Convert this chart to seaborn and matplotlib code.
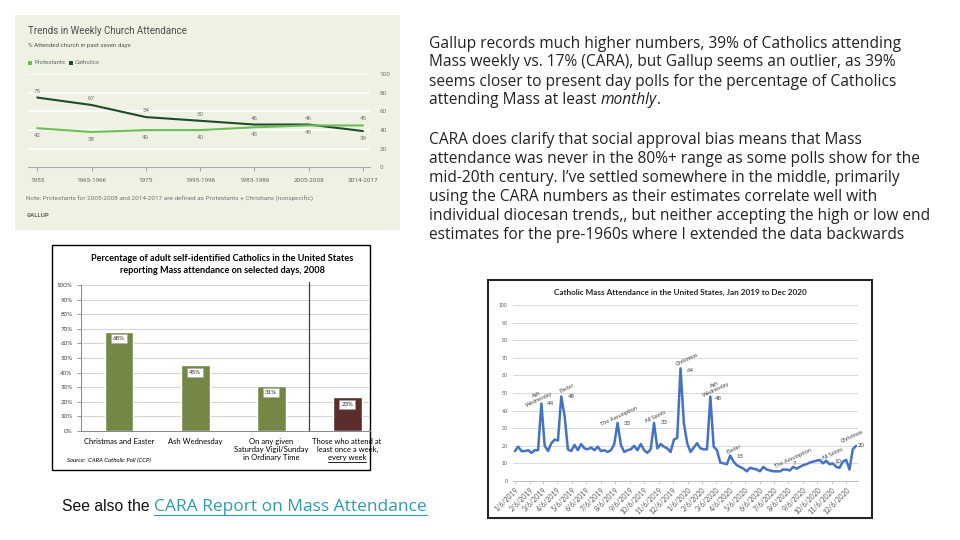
import numpy as np
import pandas as pd
import matplotlib
matplotlib.use("Agg")
import matplotlib.pyplot as plt
import matplotlib.dates as mdates
import matplotlib.transforms as mtransforms
from matplotlib.patches import Rectangle
from matplotlib.lines import Line2D
import seaborn as sns

sns.set_theme(style="white")
plt.rcParams["font.family"] = ["Open Sans", "DejaVu Sans"]

W, H = 960, 540

# === Gallup: weekly church attendance ===
gallup_periods = ["1955", "1965-1966", "1975", "1995-1996", "1983-1986", "2005-2008", "2014-2017"]
gallup_catholics = [75, 67, 54, 50, 46, 46, 39]
gallup_protestants = [42, 38, 40, 40, 43, 45, 45]

# === CARA 2008: attendance on selected days ===
cara_days = ["Christmas and Easter", "Ash Wednesday",
             "On any given\nSaturday Vigil/Sunday\nin Ordinary Time",
             "Those who attend at\nleast once a week,\nevery week"]
cara_pct = [68, 45, 31, 23]
cara_colors = ["#77933c", "#77933c", "#77933c", "#632523"]

# === Weekly Mass attendance 2019-2020 ===
weekly_2019 = [17, 19.5, 17, 17, 17.5, 16, 17.5, 17.5, 44, 20,
               17, 21.5, 23.5, 23, 48, 37, 18, 17, 20.5, 17.5,
               21, 18.5, 18, 19, 17.5, 19.5, 17, 17.5, 16.5, 17.5,
               21, 33, 20.5, 16.5, 17.5, 18, 20, 17.5, 21, 17.5,
               16, 18, 33, 18.5, 21, 19.5, 18.5, 16.5, 23.5, 24.5,
               64, 33]
weekly_2020 = [21.5, 16.5, 19, 21.5, 18.5, 18, 18, 48, 19.5, 17.5,
               10.5, 10, 9.5, 14.5, 11, 9, 8, 7, 5.5, 7.5,
               7, 6.5, 5.5, 8, 6.5, 6, 5.5, 5.5, 5.5,
               6.5, 6.5, 6, 8, 7, 8, 9, 9.5, 10.5,
               11, 11.5, 12, 10, 11.5, 9.5, 10, 8, 7.5, 11,
               12, 6.5, 18, 20]
weekly_values = weekly_2019 + weekly_2020
weekly_dates = pd.date_range("2019-01-06", periods=len(weekly_values), freq="7D")
month_ticks = pd.date_range("2019-01-06", "2020-12-06", freq=pd.DateOffset(months=1))

feast_labels = ["Ash\nWednesday", "Easter", "The Assumption", "All Saints", "Christmas",
                "Ash\nWednesday", "Easter", "The Assumption", "All Saints", "Christmas"]
feast_weeks = [8, 14, 31, 42, 50, 59, 65, 84, 96, 103]
feast_numbers = ["44", "48", "33", "33", "64", "48", "15", "7", "10", "20"]
# offsets in pixels (label, number)
feast_label_off = [(-3.5, 6.6), (6, 8.5), (1.5, 7), (2, 6), (6.5, 8.4),
                   (5, 9.5), (4, 6.5), (0, 9), (0, 10), (-4, 9)]
feast_num_off = [(9.5, 0), (10, 0), (9.5, -1), (10, 0), (9.5, -2.6),
                 (8, -1.5), (10, -1.5), (1, 3), (5, 2), (5, 0)]

text_par1 = ["Gallup records much higher numbers, 39% of Catholics attending",
             "Mass weekly vs. 17% (CARA), but Gallup seems an outlier, as 39%",
             "seems closer to present day polls for the percentage of Catholics"]
text_par2 = ["CARA does clarify that social approval bias means that Mass",
             "attendance was never in the 80%+ range as some polls show for the",
             "mid-20th century. I\u2019ve settled somewhere in the middle, primarily",
             "using the CARA numbers as their estimates correlate well with",
             "individual diocesan trends,, but neither accepting the high or low end",
             "estimates for the pre-1960s where I extended the data backwards"]

fig = plt.figure(figsize=(W / 100, H / 100), dpi=100)
fig.patch.set_facecolor("white")
renderer = fig.canvas.get_renderer()


def rect(x0, y0, x1, y1):
    return [x0 / W, 1 - y1 / H, (x1 - x0) / W, (y1 - y0) / H]


def ftext(x, y, s, **kw):
    return fig.text(x / W, 1 - y / H, s, **kw)


def text_width(s, **kw):
    t = fig.text(0, 0, s, **kw)
    w = t.get_window_extent(renderer).width
    t.remove()
    return w


def size_for(s, width, **kw):
    return 10 * width / text_width(s, fontsize=10, **kw)


def frect(x0, y0, x1, y1, **kw):
    fig.add_artist(Rectangle((x0 / W, 1 - y1 / H), (x1 - x0) / W, (y1 - y0) / H,
                             transform=fig.transFigure, **kw))


# === 1. Gallup panel ===
G_FONT = "Roboto"
C_DARK, C_LIGHT = "#23492d", "#6cbf55"
frect(15, 15, 400, 230, facecolor="#edf2e3", edgecolor="none", zorder=0)
ftext(27.7, 31, "Trends in Weekly Church Attendance", family=G_FONT, color="#4d4d4d", va="center",
      fontsize=size_for("Trends in Weekly Church Attendance", 159, family=G_FONT))
ftext(27.7, 45, "% Attended church in past seven days", family=G_FONT, color="#555", va="center",
      fontsize=size_for("% Attended church in past seven days", 103, family=G_FONT))
leg_fs = size_for("Protestants", 31, family=G_FONT)
frect(27.7, 61, 31.7, 65, facecolor=C_LIGHT, edgecolor="none")
ftext(34.5, 63, "Protestants", family=G_FONT, color="#666", va="center", fontsize=leg_fs)
frect(68.5, 61, 72.5, 65, facecolor=C_DARK, edgecolor="none")
ftext(74.5, 63, "Catholics", family=G_FONT, color="#666", va="center", fontsize=leg_fs)
note = "Note: Protestants for 2005-2008 and 2014-2017 are defined as Protestants + Christians (nonspecific)"
ftext(26.5, 199, note, family=G_FONT, color="#777", va="center", fontsize=size_for(note, 285, family=G_FONT))
ftext(26.5, 215.5, "GALLUP", family=G_FONT, color="#666", va="center", weight="bold",
      fontsize=size_for("GALLUP", 23, family=G_FONT, weight="bold"))

ga = fig.add_axes(rect(28, 74.3, 370, 167.3))
ga.set_facecolor("none")
gdf = pd.DataFrame({
    "pos": list(range(len(gallup_periods))) * 2,
    "pct": gallup_catholics + gallup_protestants,
    "group": ["Catholics"] * len(gallup_periods) + ["Protestants"] * len(gallup_periods),
})
for yv in range(20, 101, 20):
    ga.axhline(yv, color="white", lw=1.2, zorder=0)
sns.lineplot(data=gdf, x="pos", y="pct", hue="group", palette={"Catholics": C_DARK, "Protestants": C_LIGHT},
             lw=1.5, legend=False, ax=ga)
ga.set_xlim(-0.17, 6.13)
ga.set_ylim(0, 100)
ga.set_xlabel("")
ga.set_ylabel("")
tick_fs = size_for("2014-2017", 30, family=G_FONT)
ga.set_xticks(range(len(gallup_periods)), gallup_periods, family=G_FONT)
ga.yaxis.tick_right()
ga.set_yticks(range(0, 101, 20))
ga.tick_params(axis="x", bottom=True, length=3, color="#aaa", width=0.8, labelsize=tick_fs,
               labelcolor="#666", pad=5)
ga.tick_params(axis="y", right=True, length=0, pad=7, labelsize=tick_fs, labelcolor="#777")
for lab in ga.get_yticklabels():
    lab.set_family(G_FONT)
for s in ["top", "left", "right"]:
    ga.spines[s].set_visible(False)
ga.spines["bottom"].set_color("#aaa")
ga.spines["bottom"].set_linewidth(0.8)
val_fs = size_for("75", 7, family=G_FONT)
for i, (c, p) in enumerate(zip(gallup_catholics, gallup_protestants)):
    for v, up in ((c, c >= p), (p, p > c)):
        ga.annotate(str(v), (i, v), xytext=(0, 4 if up else -5), textcoords="offset pixels",
                    ha="center", va="bottom" if up else "top", fontsize=val_fs, color="#777", family=G_FONT)

# === 2. CARA 2008 bar chart ===
B_FONT = "Lato"
frect(52, 245, 370, 470, facecolor="white", edgecolor="black", lw=1, zorder=0)
t1 = "Percentage of adult self-identified Catholics in the United States"
t2 = "reporting Mass attendance on selected days, 2008"
bt_fs = size_for(t1, 262, family=B_FONT, weight="bold")
ftext(222, 258.7, t1, family=B_FONT, weight="bold", fontsize=bt_fs, ha="center", va="center", color="black")
ftext(222, 270.7, t2, family=B_FONT, weight="bold", fontsize=bt_fs, ha="center", va="center", color="black")

bx = fig.add_axes(rect(81, 285, 370, 431))
bx.set_facecolor("none")
for yv in range(10, 101, 10):
    bx.axhline(yv, color="#d4d4d4", lw=0.8, zorder=0)
sns.barplot(x=list(range(4)), y=cara_pct, hue=list(range(4)), palette=cara_colors, width=0.38,
            legend=False, ax=bx, zorder=2, native_scale=True)
bx.set_xlim(-0.5, 3.30)
bx.set_ylim(0, 100)
bx.set_xlabel("")
bx.set_ylabel("")
bx.axvline(2.5, ymin=0, ymax=1.02, color="#404040", lw=0.9, clip_on=False)
bx.set_yticks(range(0, 101, 10), [f"{v}%" for v in range(0, 101, 10)])
bx.set_xticks([])
by_fs = size_for("100%", 16, family=B_FONT)
bx.tick_params(axis="y", left=True, length=3, color="#868686", width=0.6, labelsize=by_fs,
               labelcolor="#404040", pad=3)
for lab in bx.get_yticklabels():
    lab.set_family(B_FONT)
for s in ["top", "right"]:
    bx.spines[s].set_visible(False)
for s in ["left", "bottom"]:
    bx.spines[s].set_color("#868686")
    bx.spines[s].set_linewidth(0.7)
bv_fs = size_for("68%", 12, family=B_FONT)
for i, v in enumerate(cara_pct):
    bx.text(i, v - 4.8, f"{v}%", ha="center", va="center", fontsize=bv_fs, family=B_FONT, color="#222",
            zorder=4, bbox=dict(boxstyle="square,pad=0.3", facecolor="white", edgecolor="#a6a6a6", lw=0.4))
bl_fs = size_for("Christmas and Easter", 71, family=B_FONT)
trans = mtransforms.blended_transform_factory(bx.transData, bx.transAxes)
for i, lab in enumerate(cara_days):
    t = bx.text(i, -0.045, lab, transform=trans, ha="center", va="top", fontsize=bl_fs,
                family=B_FONT, color="black", linespacing=1.2)
    if i == len(cara_days) - 1:
        # underline the last line "every week"
        bb = t.get_window_extent(renderer)
        wpx = text_width("every week", fontsize=bl_fs, family=B_FONT)
        cx = (bb.x0 + bb.x1) / 2
        yb = bb.y0 - 0.5
        fig.add_artist(Line2D([(cx - wpx / 2) / W, (cx + wpx / 2) / W], [yb / H, yb / H],
                              transform=fig.transFigure, color="black", lw=0.6))
src = "Source:  CARA Catholic Poll (CCP)"
ftext(67, 460, src, family=B_FONT, style="italic", va="center", color="black",
      fontsize=size_for(src, 85, family=B_FONT, style="italic"))

# === 3. Weekly line chart ===
frect(488, 280, 872, 518, facecolor="white", edgecolor="#262626", lw=1.5, zorder=0)
lt = "Catholic Mass Attendance in the United States, Jan 2019 to Dec 2020"
ftext(680, 292, lt, family=B_FONT, weight="bold", ha="center", va="center", color="#222",
      fontsize=size_for(lt, 253, family=B_FONT, weight="bold"))

lx = fig.add_axes(rect(513, 305, 858, 481))
lx.set_facecolor("none")
for yv in range(10, 101, 10):
    lx.axhline(yv, color="#d9d9d9", lw=0.7, zorder=0)
wdf = pd.DataFrame({"date": weekly_dates, "pct": weekly_values})
sns.lineplot(data=wdf, x="date", y="pct", color="#4472c4", lw=1.8, ax=lx)
d_num = mdates.date2num(weekly_dates.to_pydatetime())
lx.set_xlim(d_num[0] - 4, d_num[-1] + 4)
lx.set_ylim(0, 100)
lx.set_xlabel("")
lx.set_ylabel("")
t_num = mdates.date2num(month_ticks.to_pydatetime())
lx.set_xticks(t_num, [f"{d.month}/{d.day}/{d.year}" for d in month_ticks],
              rotation=45, ha="right", rotation_mode="anchor")
lx.set_yticks(range(0, 101, 10))
lxt_fs = size_for("1/6/2019", 31, family=B_FONT)
ly_fs = size_for("100", 9, family=B_FONT)
lx.tick_params(axis="x", bottom=True, length=2.5, color="#bfbfbf", width=0.6, labelsize=lxt_fs,
               labelcolor="#595959", pad=1)
lx.tick_params(axis="y", left=False, length=0, pad=4, labelsize=ly_fs, labelcolor="#595959")
for lab in lx.get_xticklabels() + lx.get_yticklabels():
    lab.set_family(B_FONT)
for s in ["top", "left", "right"]:
    lx.spines[s].set_visible(False)
lx.spines["bottom"].set_color("#bfbfbf")
lx.spines["bottom"].set_linewidth(0.7)
fl_fs = size_for("The Assumption", 40, family=B_FONT)
fn_fs = size_for("44", 7, family=B_FONT)
for lab, wk, num, lo, no in zip(feast_labels, feast_weeks, feast_numbers, feast_label_off, feast_num_off):
    xy = (d_num[wk], weekly_values[wk])
    lx.annotate(lab, xy, xytext=lo, textcoords="offset pixels", rotation=25, ha="center", va="center",
                fontsize=fl_fs, family=B_FONT, color="#404040", linespacing=1.0)
    lx.annotate(num, xy, xytext=no, textcoords="offset pixels", ha="center", va="center",
                fontsize=fn_fs, family=B_FONT, color="#404040")

# === 4. Commentary text ===
T_FONT = "Open Sans"
body_fs = size_for(text_par2[4], 502, family=T_FONT)
TX = 429
for k, line in enumerate(text_par1):
    ftext(TX, 47.5 + 19 * k, line, family=T_FONT, fontsize=body_fs, color="#222", va="baseline")
y4 = 47.5 + 19 * 3
t = ftext(TX, y4, "attending Mass at least", family=T_FONT, fontsize=body_fs, color="#222", va="baseline")
sp = (text_width("a a", fontsize=body_fs, family=T_FONT)
      - text_width("aa", fontsize=body_fs, family=T_FONT))
x1 = t.get_window_extent(renderer).x1 + sp
t = ftext(x1, y4, "monthly", family=T_FONT, fontsize=body_fs, color="#222", va="baseline", style="italic")
x2 = t.get_window_extent(renderer).x1
ftext(x2, y4, ".", family=T_FONT, fontsize=body_fs, color="#222", va="baseline")
for k, line in enumerate(text_par2):
    ftext(TX, 144 + 19 * k, line, family=T_FONT, fontsize=body_fs, color="#222", va="baseline")

# === 5. Link line ===
see = "See also the"
see_fs = size_for(see, 88, family="Liberation Sans")
ftext(62, 511, see, family="Liberation Sans", fontsize=see_fs, color="#111", va="baseline")
link = "CARA Report on Mass Attendance"
lk = ftext(154, 511, link, family=T_FONT, color="#2e9aae", va="baseline",
           fontsize=size_for(link, 272, family=T_FONT))
lb = lk.get_window_extent(renderer)
fig.add_artist(Line2D([lb.x0 / W, lb.x1 / W], [(H - 514.5) / H, (H - 514.5) / H],
                      transform=fig.transFigure, color="#2e9aae", lw=0.8))

fig.savefig("out.png", dpi=100, facecolor="white")
